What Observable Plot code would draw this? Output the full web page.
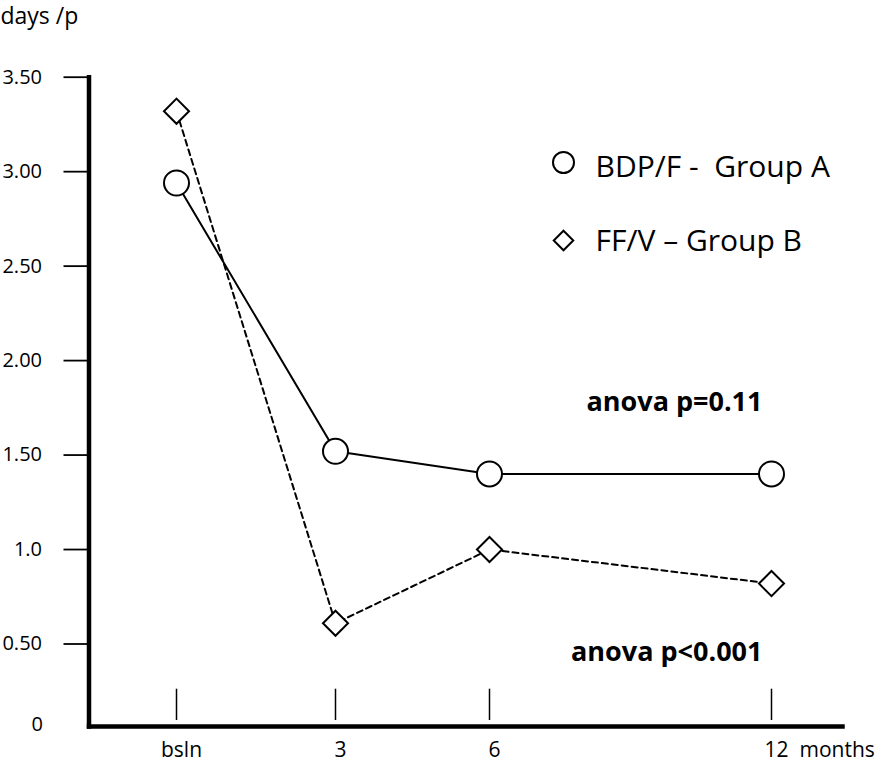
<!DOCTYPE html>
<html>
<head>
<meta charset="utf-8">
<script src="https://cdn.jsdelivr.net/npm/d3@7"></script>
<script src="https://cdn.jsdelivr.net/npm/@observablehq/plot@0.6"></script>
<style>
  body { margin: 0; background: #fff; }
  svg text { white-space: pre; }
</style>
</head>
<body>
<div id="chart"></div>
<script>
// ---- data ----
const months = [0, 3, 6, 12];
const monthLabels = ["bsln", "3", "6", "12"];
const groupA = [2.94, 1.52, 1.40, 1.40];   // BDP/F - Group A (circles, solid)
const groupB = [3.32, 0.61, 1.00, 0.82];   // FF/V - Group B (diamonds, dashed)
const yTicks = [3.5, 3.0, 2.5, 2.0, 1.5, 1.0, 0.5];
const yTickLabels = ["3.50", "3.00", "2.50", "2.00", "1.50", "1.0", "0.50"];
const yZeroLabel = "0";
const seriesNames = ["BDP/F -  Group A", "FF/V \u2013 Group B"];
const anovaLabels = ["anova p=0.11", "anova p<0.001"];
const yAxisTitle = "days /p";
const xAxisUnit = "months";

// ---- derived tables ----
const dataA = months.map((m, i) => ({month: m, value: groupA[i]}));
const dataB = months.map((m, i) => ({month: m, value: groupB[i]}));
const yLabelMap = new Map(yTicks.map((t, i) => [t, yTickLabels[i]]));
const xLabelMap = new Map(months.map((m, i) => [m, monthLabels[i]]));
const lastA = dataA[dataA.length - 1];
const lastB = dataB[dataB.length - 1];

const font = "'Open Sans', sans-serif";

const chart = Plot.plot({
  width: 883,
  height: 764,
  marginLeft: 88.5,
  marginRight: 41,
  marginTop: 76.7,
  marginBottom: 38,
  style: {fontFamily: font, fontSize: "20px", color: "#000", background: "#fff"},
  x: {type: "linear", domain: months, range: [176, 335, 489, 771]},
  y: {domain: [0.5, 3.5], range: [643.5, 76.7]},
  marks: [
    // y axis ticks + labels
    Plot.axisY({ticks: yTicks, tickFormat: d => yLabelMap.get(d), tickSize: 25, tickPadding: 22,
                strokeWidth: 1.8, fontSize: 20, label: null}),
    Plot.text([yZeroLabel], {frameAnchor: "bottom-left", dx: -46, dy: -2, textAnchor: "end",
                             lineAnchor: "middle", fontSize: 20}),
    // x tick marks (floating above the axis line)
    Plot.tickX(months, {x: d => d, insetTop: 612, insetBottom: 6, stroke: "black", strokeWidth: 1.5}),
    // x labels
    Plot.axisX({ticks: months, tickFormat: d => xLabelMap.get(d), tickSize: 0, tickPadding: 16,
                fontSize: 21, dx: 5, label: null}),
    Plot.text([months[months.length - 1]], {x: d => d, text: () => xAxisUnit, frameAnchor: "bottom",
               dx: 28, dy: 16, textAnchor: "start", lineAnchor: "top", fontSize: 21}),
    // axis lines
    Plot.frame({anchor: "left", stroke: "black", strokeWidth: 4.5, strokeLinecap: "square"}),
    Plot.frame({anchor: "bottom", stroke: "black", strokeWidth: 4.5, strokeLinecap: "square"}),
    // series A
    Plot.line(dataA, {x: "month", y: "value", stroke: "black", strokeWidth: 2}),
    Plot.dot(dataA, {x: "month", y: "value", r: 12.5, symbol: "circle", fill: "white",
                     stroke: "black", strokeWidth: 2}),
    // series B
    Plot.line(dataB, {x: "month", y: "value", stroke: "black", strokeWidth: 2, strokeDasharray: "6,4"}),
    Plot.dot(dataB, {x: "month", y: "value", r: 11.3, symbol: "diamond2", fill: "white",
                     stroke: "black", strokeWidth: 2}),
    // anova annotations
    Plot.text([lastA], {x: "month", y: "value", text: () => anovaLabels[0], dx: -9, dy: -72,
                        textAnchor: "end", lineAnchor: "middle", fontWeight: "bold", fontSize: 27}),
    Plot.text([lastB], {x: "month", y: "value", text: () => anovaLabels[1], dx: -9, dy: 69,
                        textAnchor: "end", lineAnchor: "middle", fontWeight: "bold", fontSize: 27}),
    // legend
    Plot.dot([seriesNames[0]], {frameAnchor: "top-left", dx: 474.5, dy: 85.3, r: 10.5, symbol: "circle",
                                fill: "white", stroke: "black", strokeWidth: 2}),
    Plot.text([seriesNames[0]], {frameAnchor: "top-left", dx: 506.5, dy: 90.3, textAnchor: "start",
                                 lineAnchor: "middle", fontSize: 30}),
    Plot.dot([seriesNames[1]], {frameAnchor: "top-left", dx: 474.5, dy: 163.3, r: 8.8, symbol: "diamond2",
                                fill: "white", stroke: "black", strokeWidth: 2}),
    Plot.text([seriesNames[1]], {frameAnchor: "top-left", dx: 506.5, dy: 164.3, textAnchor: "start",
                                 lineAnchor: "middle", fontSize: 30}),
    // y axis title
    Plot.text([yAxisTitle], {frameAnchor: "top-left", dx: -88.5, dy: -61, textAnchor: "start",
                             lineAnchor: "middle", fontSize: 23})
  ]
});
document.getElementById("chart").appendChild(chart);
</script>
</body>
</html>
